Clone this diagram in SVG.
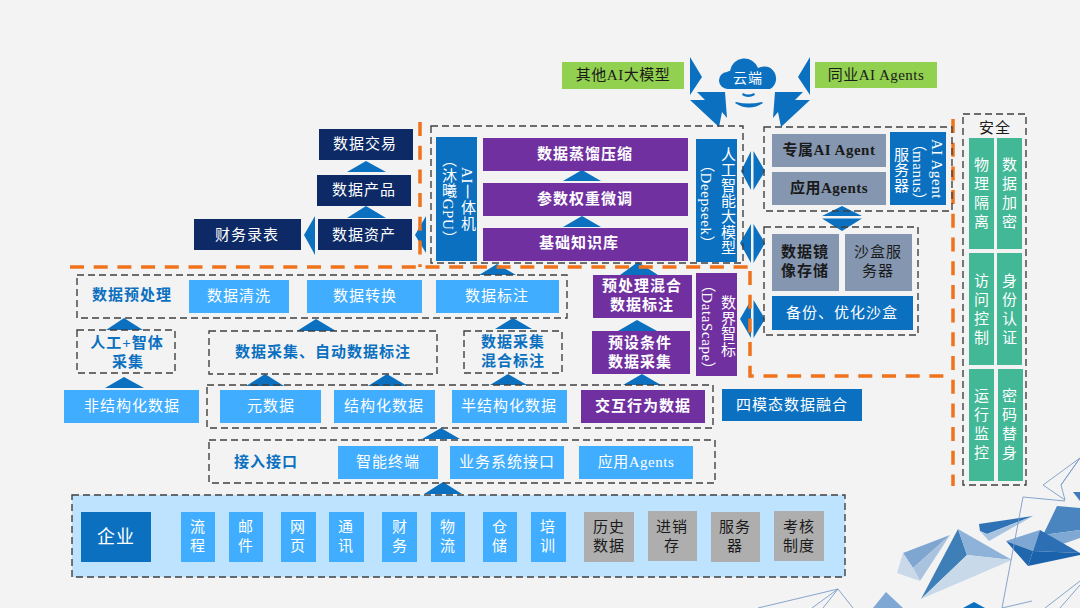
<svg xmlns="http://www.w3.org/2000/svg" width="1080" height="608" viewBox="0 0 1080 608">
<style>
text{font-family:"Liberation Serif","Noto Sans CJK SC",sans-serif;font-size:15px;text-anchor:middle;dominant-baseline:central;fill:#fff;letter-spacing:1px}
text.l{letter-spacing:.5px}
text.v{writing-mode:vertical-rl;letter-spacing:.6px}
.dash{fill:none;stroke:#404040;stroke-width:1.4;stroke-dasharray:7 4}
.or{fill:none;stroke:#f0731c;stroke-width:3.5;stroke-dasharray:14 9.7}
.lb{fill:#41adff}.blue{fill:#0a70bf}.navy{fill:#0d2a66}.pur{fill:#7030a0}.gr{fill:#8496b0}.gy{fill:#aeaeae}.tl{fill:#42b896}.lg{fill:#92d050}
text.k{fill:#1a1a1a}text.b{fill:#0a70bf;font-weight:bold}text.bd{font-weight:bold}
.ar{fill:#0a70bf}
.ln{fill:none;stroke:#7b9cc8;stroke-width:.9}
</style>
<rect width="1080" height="608" fill="#f3f3f3"/>
<g id="decor">
<path fill="#7fa6d0" d="M950 535L903 553L913 568Z"/>
<path fill="#a9c3df" d="M950 535L913 568L920 581Z"/>
<path fill="#c9d9ea" d="M903 553L897 573L920 581L913 568Z"/>
<path fill="#3f7fb8" d="M958 529L921 599L967 555Z"/>
<path fill="#8fb3d8" d="M958 529L1012 560L967 555Z"/>
<path fill="#c8d9ea" d="M967 555L1012 560L921 599Z"/>
<path fill="#2f72b5" d="M979 524L1033 516L987 534L980 531Z"/>
<path fill="#a8c4e0" d="M987 534L1033 516L989 541L980 531Z"/>
<path fill="#4a85c0" d="M1057 506L1080 508V530L1043 535Z"/>
<path fill="#7fa8d4" d="M1043 535L1080 530V538L1060 545Z"/>
<path fill="#7ea7d3" d="M1006 541L1040 530L1033 551Z"/>
<path fill="#2c6fb4" d="M1040 530L1080 553L1033 551Z"/>
<path fill="#1f66ad" d="M1006 541L1033 551L1028 566Z"/>
<path fill="#1a62ab" d="M1033 551L1080 553V555L1028 566Z"/>
<path fill="#3c7cbd" d="M1073 492H1080V501Z"/>
<path fill="#7fa8d4" d="M886 592L873 608H903Z"/>
<path fill="#0a70bf" d="M974 602L963 608H985Z"/>
<path class="ln" d="M1080 458L1043 485L1065 500L1061 485ZM1080 458L1061 485M1023 497L1065 501M1023 497L1002 608M1002 608L1032 601M1045 608L1080 581M1060 608L1080 585M838 589L758 608M838 589L853 608M838 589L812 608M838 589L823 608"/>
</g>
<g id="connectors">
<g class="ar">
<path d="M366 161L347 172H386Z"/>
<path d="M366 206L347 218H386Z"/>
<path d="M304 235L315 216V255Z"/>
<path d="M415 235L426 216V253Z"/>
<path d="M582 170L563 181H601Z"/>
<path d="M582 216L563 227H601Z"/>
<path d="M124 318L106 330H143Z"/>
<path d="M124 377L105 388H144Z"/>
<path d="M316 319L297 331H336Z"/>
<path d="M265 374L246 386H284Z"/>
<path d="M387 374L368 386H407Z"/>
<path d="M497 264L479 275H516Z"/>
<path d="M638 262L620 275H658Z"/>
<path d="M637 320L618 331H657Z"/>
<path d="M642 374L623 385H661Z"/>
<path d="M513 318L495 329H532Z"/>
<path d="M508 374L490 385H527Z"/>
<path d="M441 428L422 439H460Z"/>
<path d="M443 482L424 494H462Z"/>
<path d="M690 57L702 77L690 95Z"/>
<path d="M697 92H725L727 118L722 112L719 127L690 100H705Z"/>
<path d="M810 57L798 77L810 95Z"/>
<path d="M803 92H775L773 118L778 112L781 127L810 100H795Z"/>
<path d="M751 151L741 171L751 190ZM753.500 151L765 171L753.500 190Z"/>
<path d="M751 224L740 243L751 263ZM753.500 224L765 243L753.500 263Z"/>
<path d="M751 300L740 319L751 338ZM753.500 300L765 319L753.500 338Z"/>
<path d="M822 216L842 206L862 216ZM822 218.500L842 231L862 218.500Z"/>
</g>
</g>
<path class="or" d="M70 267H748"/>
<path class="or" d="M750 271V376H953"/>
<path class="or" d="M953 119V486"/>
<path class="or" d="M420 122V267"/>
<rect class="dash" x="431" y="126" width="312" height="137"/>
<rect class="dash" x="764" y="127" width="188" height="84"/>
<rect class="dash" x="764" y="227" width="154" height="108"/>
<rect class="dash" x="963" y="114" width="63" height="371"/>
<rect class="dash" x="77" y="275" width="490" height="43"/>
<rect class="dash" x="77" y="330" width="98" height="43"/>
<rect class="dash" x="209" y="331" width="228" height="43"/>
<rect class="dash" x="464" y="331" width="98" height="42"/>
<rect class="dash" x="207" y="385" width="506" height="43"/>
<rect class="dash" x="209" y="440" width="506" height="43"/>
<rect x="72" y="495" width="773" height="82" fill="#bde3ff"/><rect class="dash" x="72" y="495" width="773" height="82"/>

<g id="n-cloud"><path class="blue" d="M728 89a8.500 8.500 0 0 1-1-17a7 7 0 0 1 3-1a14.500 14.500 0 0 1 28-3a11 11 0 0 1 12 21Z"/><text x="748" y="78" style="font-size:14px">云端</text><path class="blue" d="M743 93q5 3 11 0l1 2q-7 4-13 0ZM736 102q12 3 26 0l1 1q-14 9-28 0Z"/></g>
<g id="n-other"><rect x="562" y="62" width="122" height="27" class="lg"/><text class="k l" x="623" y="75">其他AI大模型</text></g>
<g id="n-peer"><rect x="815" y="62" width="122" height="26" class="lg"/><text class="k l" x="876" y="75">同业AI Agents</text></g>
<g id="n-trade"><rect x="319" y="129" width="94" height="31" class="navy"/><text x="365" y="144">数据交易</text></g>
<g id="n-prod"><rect x="317" y="175" width="94" height="31" class="navy"/><text x="364" y="190">数据产品</text></g>
<g id="n-asset"><rect x="318" y="219" width="94" height="31" class="navy"/><text x="364" y="235">数据资产</text></g>
<g id="n-fin"><rect x="194" y="219" width="107" height="31" class="navy"/><text x="247" y="235">财务录表</text></g>
<g id="n-aibox"><rect x="436" y="137" width="41" height="124" class="blue"/><text class="v" x="467" y="199"><tspan style="text-orientation:sideways">AI一</tspan>体机</text><text class="v" x="448" y="199">（沐曦GPU）</text></g>
<g id="n-distill"><rect x="483" y="138" width="205" height="33" class="pur"/><text class="bd" x="585" y="154">数据蒸馏压缩</text></g>
<g id="n-tune"><rect x="483" y="183" width="205" height="33" class="pur"/><text class="bd" x="585" y="199">参数权重微调</text></g>
<g id="n-kb"><rect x="483" y="228" width="205" height="33" class="pur"/><text class="bd" x="579" y="243">基础知识库</text></g>
<g id="n-llm"><rect x="696" y="139" width="41" height="123" class="blue"/><text class="v" x="727" y="201">人工智能大模型</text><text class="v" x="706" y="204">（Deepseek）</text></g>
<g id="n-agent"><rect x="772" y="134" width="114" height="33" class="gr"/><text class="k bd l" x="829" y="150">专属AI Agent</text></g>
<g id="n-appag"><rect x="772" y="172" width="114" height="33" class="gr"/><text class="k bd l" x="829" y="188">应用Agents</text></g>
<g id="n-manus"><rect x="890" y="132" width="56" height="73" class="blue"/><text class="v" x="937" y="169">AI Agent</text><text class="v" x="918" y="172">（manus）</text><text class="v" x="900" y="170">服务器</text></g>
<g id="n-mirror"><rect x="772" y="234" width="67" height="57" class="gr"/><text class="k bd" x="805" y="252">数据镜</text><text class="k bd" x="805" y="271">像存储</text></g>
<g id="n-sand"><rect x="845" y="234" width="67" height="57" class="gr"/><text class="k" x="878" y="252">沙盒服</text><text class="k" x="878" y="271">务器</text></g>
<g id="n-backup"><rect x="772" y="296" width="141" height="34" class="blue"/><text x="842" y="313">备份、优化沙盒</text></g>
<g id="n-safe"><text class="k" x="995" y="128">安全</text></g>
<g id="n-s1"><rect x="969" y="138" width="25" height="111" class="tl"/><text x="982" y="165">物</text><text x="982" y="184">理</text><text x="982" y="203">隔</text><text x="982" y="222">离</text></g>
<g id="n-s2"><rect x="997" y="138" width="25" height="111" class="tl"/><text x="1010" y="165">数</text><text x="1010" y="184">据</text><text x="1010" y="203">加</text><text x="1010" y="222">密</text></g>
<g id="n-s3"><rect x="969" y="253" width="25" height="112" class="tl"/><text x="982" y="281">访</text><text x="982" y="300">问</text><text x="982" y="319">控</text><text x="982" y="338">制</text></g>
<g id="n-s4"><rect x="997" y="253" width="25" height="112" class="tl"/><text x="1010" y="281">身</text><text x="1010" y="300">份</text><text x="1010" y="319">认</text><text x="1010" y="338">证</text></g>
<g id="n-s5"><rect x="969" y="369" width="25" height="112" class="tl"/><text x="982" y="396">运</text><text x="982" y="415">行</text><text x="982" y="434">监</text><text x="982" y="453">控</text></g>
<g id="n-s6"><rect x="998" y="369" width="25" height="112" class="tl"/><text x="1010" y="396">密</text><text x="1010" y="415">码</text><text x="1010" y="434">替</text><text x="1010" y="453">身</text></g>
<g id="n-pre"><text class="b" x="132" y="295">数据预处理</text></g>
<g id="n-clean"><rect x="189" y="280" width="100" height="33" class="lb"/><text x="239" y="296">数据清洗</text></g>
<g id="n-conv"><rect x="307" y="280" width="115" height="33" class="lb"/><text x="365" y="296">数据转换</text></g>
<g id="n-tag"><rect x="436" y="280" width="123" height="33" class="lb"/><text x="497" y="296">数据标注</text></g>
<g id="n-human"><text class="b" x="127" y="343">人工+智体</text><text class="b" x="128" y="362">采集</text></g>
<g id="n-auto"><text class="b" x="323" y="352">数据采集、自动数据标注</text></g>
<g id="n-mix"><text class="b" x="513" y="342">数据采集</text><text class="b" x="513" y="361">混合标注</text></g>
<g id="n-premix"><rect x="593" y="275" width="99" height="43" class="pur"/><text class="bd" x="642" y="286">预处理混合</text><text class="bd" x="642" y="305">数据标注</text></g>
<g id="n-cond"><rect x="592" y="331" width="98" height="43" class="pur"/><text class="bd" x="640" y="343">预设条件</text><text class="bd" x="640" y="362">数据采集</text></g>
<g id="n-ds"><rect x="696" y="273" width="41" height="103" class="pur"/><text class="v" x="727" y="326">数界智标</text><text class="v" x="707" y="327">（DataScape）</text></g>
<g id="n-unstr"><rect x="64" y="390" width="135" height="33" class="lb"/><text x="132" y="406">非结构化数据</text></g>
<g id="n-meta"><rect x="220" y="390" width="101" height="33" class="lb"/><text x="271" y="406">元数据</text></g>
<g id="n-str"><rect x="334" y="390" width="101" height="33" class="lb"/><text x="384" y="406">结构化数据</text></g>
<g id="n-semi"><rect x="452" y="390" width="115" height="33" class="lb"/><text x="509" y="406">半结构化数据</text></g>
<g id="n-inter"><rect x="581" y="390" width="124" height="33" class="pur"/><text class="bd" x="643" y="406">交互行为数据</text></g>
<g id="n-four"><rect x="722" y="389" width="140" height="32" class="blue"/><text x="792" y="405">四模态数据融合</text></g>
<g id="n-port"><text class="b" x="266" y="462">接入接口</text></g>
<g id="n-term"><rect x="338" y="446" width="100" height="33" class="lb"/><text x="388" y="462">智能终端</text></g>
<g id="n-bizif"><rect x="450" y="446" width="114" height="33" class="lb"/><text x="507" y="462">业务系统接口</text></g>
<g id="n-appif"><rect x="579" y="446" width="114" height="33" class="lb"/><text class="l" x="636" y="462">应用Agents</text></g>
<g id="n-ent"><rect x="81" y="512" width="70" height="50" class="blue"/><text x="116" y="537" style="font-size:18px">企业</text></g>
<g id="n-e1"><rect x="181" y="512" width="34" height="50" class="lb"/><text x="198" y="527">流</text><text x="198" y="546">程</text></g>
<g id="n-e2"><rect x="229" y="512" width="34" height="50" class="lb"/><text x="246" y="527">邮</text><text x="246" y="546">件</text></g>
<g id="n-e3"><rect x="281" y="512" width="35" height="50" class="lb"/><text x="298" y="527">网</text><text x="298" y="546">页</text></g>
<g id="n-e4"><rect x="329" y="512" width="35" height="50" class="lb"/><text x="346" y="527">通</text><text x="346" y="546">讯</text></g>
<g id="n-e5"><rect x="382" y="512" width="35" height="50" class="lb"/><text x="400" y="527">财</text><text x="400" y="546">务</text></g>
<g id="n-e6"><rect x="431" y="512" width="34" height="50" class="lb"/><text x="448" y="527">物</text><text x="448" y="546">流</text></g>
<g id="n-e7"><rect x="483" y="512" width="34" height="50" class="lb"/><text x="500" y="527">仓</text><text x="500" y="546">储</text></g>
<g id="n-e8"><rect x="531" y="512" width="35" height="50" class="lb"/><text x="548" y="527">培</text><text x="548" y="546">训</text></g>
<g id="n-h1"><rect x="584" y="512" width="50" height="50" class="gy"/><text class="k" x="609" y="527">历史</text><text class="k" x="609" y="546">数据</text></g>
<g id="n-h2"><rect x="648" y="511" width="49" height="50" class="gy"/><text class="k" x="672" y="527">进销</text><text class="k" x="672" y="546">存</text></g>
<g id="n-h3"><rect x="711" y="512" width="49" height="50" class="gy"/><text class="k" x="735" y="527">服务</text><text class="k" x="735" y="546">器</text></g>
<g id="n-h4"><rect x="774" y="511" width="50" height="50" class="gy"/><text class="k" x="799" y="527">考核</text><text class="k" x="799" y="546">制度</text></g>
</svg>
